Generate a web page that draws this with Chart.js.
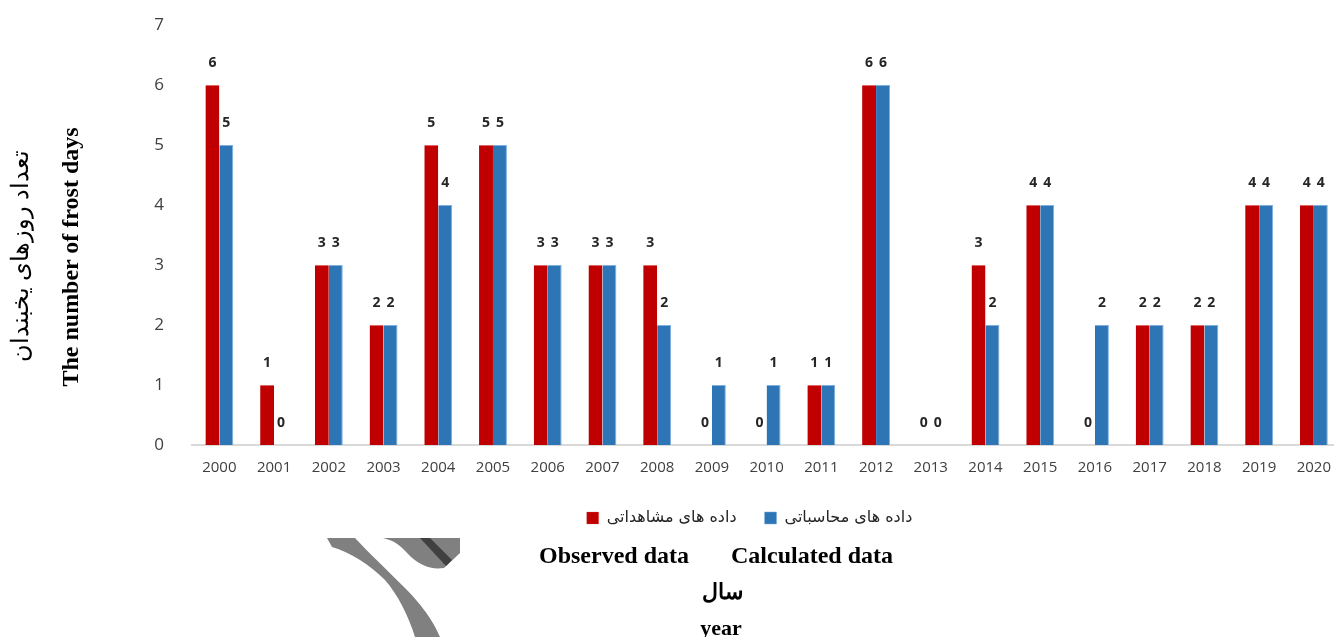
<!DOCTYPE html>
<html>
<head>
<meta charset="utf-8">
<script src="https://cdn.jsdelivr.net/npm/chart.js@4/dist/chart.umd.min.js"></script>
<style>
  html, body { margin:0; padding:0; background:#fff; overflow:hidden; width:1334px; height:637px; }
  #wrap { position:absolute; left:0; top:0; width:1345px; height:600px; }
  .t { position:absolute; font-family:"Liberation Serif","Times New Roman",serif; color:#000; white-space:nowrap; }
  .rot { transform-origin:center center; transform:translate(-50%,-50%) rotate(-90deg); }
  .ctr { transform:translate(-50%,-50%); }
  svg { position:absolute; left:0; top:0; }
</style>
</head>
<body>
<svg width="1334" height="637">
  <path d="M327,538 L355,538 C368,552 385,568 405,588 C425,608 435,625 440,637 L415,637 C408,615 398,595 385,580 C370,565 350,552 332,547 Z" fill="#808080"/>
  <path d="M383,538 L460,538 L460,553 L444,568 C430,570 420,565 410,556 C400,545 395,541 383,538 Z" fill="#808080"/>
  <path d="M420,538 L430,538 L452,560 L446,566 Z" fill="#404040"/>
</svg>
<div id="wrap"><canvas id="c"></canvas></div>
<div class="t rot" style="left:20px; top:256px; font-size:24px;">تعداد روزهای یخبندان</div>
<div class="t rot" style="left:70px; top:257px; font-size:24px; font-weight:bold;">The number of frost days</div>
<div class="t ctr" style="left:614px; top:555px; font-size:24px; font-weight:bold;">Observed data</div>
<div class="t ctr" style="left:812px; top:555px; font-size:24px; font-weight:bold;">Calculated data</div>
<div class="t ctr" style="left:722px; top:592px; font-size:22px; font-weight:bold;">سال</div>
<div class="t ctr" style="left:721px; top:628px; font-size:22px; font-weight:bold;">year</div>
<script>
const years = ["2000","2001","2002","2003","2004","2005","2006","2007","2008","2009","2010","2011","2012","2013","2014","2015","2016","2017","2018","2019","2020"];
const observed = [6,1,3,2,5,5,3,3,3,0,0,1,6,0,3,4,0,2,2,4,4];
const calculated = [5,0,3,2,4,5,3,3,2,1,1,1,6,0,2,4,2,2,2,4,4];
const yTicks = [0,1,2,3,4,5,6,7];
const seriesNames = ["داده های مشاهداتی","داده های محاسباتی"];

const labelPlugin = {
  id: 'barLabels',
  afterLayout(chart) {
    if (chart.legend) { chart.legend.left += 77; chart.legend.right += 77; }
  },
  afterDatasetsDraw(chart) {
    const ctx = chart.ctx;
    ctx.save();
    ctx.font = 'bold 14px "Open Sans", sans-serif';
    ctx.fillStyle = '#262626';
    ctx.textAlign = 'center';
    ctx.textBaseline = 'middle';
    chart.data.datasets.forEach((ds, i) => {
      const meta = chart.getDatasetMeta(i);
      meta.data.forEach((bar, j) => {
        ctx.fillText(String(ds.data[j]), bar.x, bar.y - 22);
      });
    });
    ctx.restore();
  }
};

new Chart(document.getElementById('c'), {
  type: 'bar',
  data: {
    labels: years,
    datasets: [
      { label: seriesNames[0], data: observed, backgroundColor: '#C00000', borderColor: '#E06666', borderWidth: {left:0,right:0,top:1,bottom:0}, categoryPercentage: 0.51, barPercentage: 1.0 },
      { label: seriesNames[1], data: calculated, backgroundColor: '#2E75B6', borderColor: '#7FB0E0', borderWidth: {left:0,right:1,top:1,bottom:0}, categoryPercentage: 0.51, barPercentage: 1.0 }
    ]
  },
  options: {
    responsive: true,
    maintainAspectRatio: false,
    animation: false,
    layout: { padding: { top: 25, right: 0, left: 0, bottom: 64 } },
    scales: {
      x: {
        grid: { display: false, drawTicks: false },
        border: { display: true, color: '#D9D9D9', width: 2 },
        ticks: { color: '#404040', font: { family: '"Open Sans", sans-serif', size: 15 }, padding: 14, maxRotation: 0, autoSkip: false },
        afterFit(s) { s.height = 37; }
      },
      y: {
        min: 0, max: 7,
        grid: { display: false, drawTicks: false },
        border: { display: false },
        afterBuildTicks(s) { s.ticks = yTicks.map(v => ({ value: v })); },
        ticks: { color: '#404040', font: { family: '"Open Sans", sans-serif', size: 17 }, padding: 28 },
        afterFit(s) { s.width = 192; s.paddingTop = 0; s.paddingBottom = 0; }
      }
    },
    plugins: {
      legend: {
        position: 'bottom',
        labels: { color: '#262626', font: { family: '"DejaVu Sans", sans-serif', size: 16 }, boxWidth: 12, boxHeight: 12, padding: 28 }
      },
      tooltip: { enabled: false }
    }
  },
  plugins: [labelPlugin]
});
</script>
</body>
</html>
